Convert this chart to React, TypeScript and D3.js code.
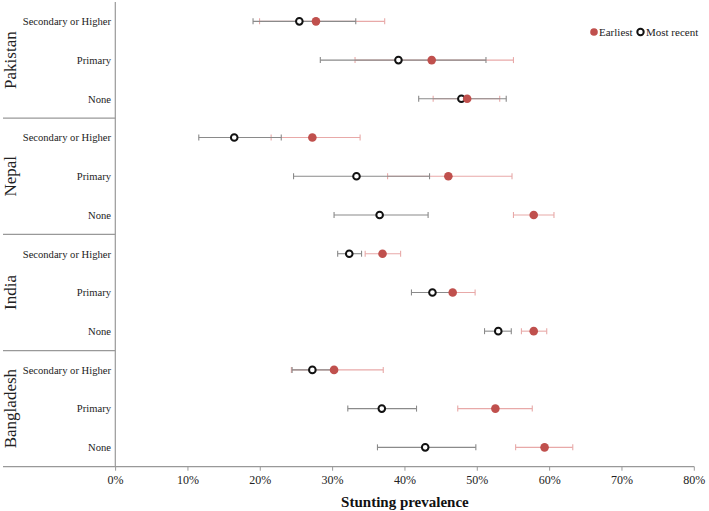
import React from "react";
import * as d3 from "d3";

const countries = ["Pakistan", "Nepal", "India", "Bangladesh"];
const levels = ["Secondary or Higher", "Primary", "None"];
const xTicks = [0, 10, 20, 30, 40, 50, 60, 70, 80];

// per country, per level (Secondary, Primary, None)
const earliestValue = [
  [27.7, 43.7, 48.6],
  [27.2, 46.0, 57.8],
  [36.9, 46.6, 57.8],
  [30.2, 52.5, 59.3],
];
const earliestLow = [
  [19.9, 33.1, 43.9],
  [21.5, 37.6, 55.0],
  [34.5, 43.5, 56.1],
  [24.3, 47.3, 55.3],
];
const earliestHigh = [
  [37.2, 55.0, 53.1],
  [33.8, 54.8, 60.6],
  [39.4, 49.7, 59.6],
  [37.0, 57.6, 63.2],
];
const recentValue = [
  [25.4, 39.1, 47.8],
  [16.4, 33.3, 36.5],
  [32.3, 43.8, 52.9],
  [27.2, 36.8, 42.8],
];
const recentLow = [
  [19.0, 28.3, 41.9],
  [11.5, 24.6, 30.2],
  [30.7, 40.9, 51.0],
  [24.4, 32.1, 36.2],
];
const recentHigh = [
  [33.2, 51.2, 54.0],
  [22.9, 43.4, 43.2],
  [34.0, 46.7, 54.7],
  [30.0, 41.6, 49.8],
];

const W = 709;
const H = 511;
const RED = "#c0504d";
const PINK = "#e8a9a8";
const GREY = "#8a8a8a";
const AXIS = "#999999";
const FONT = "Liberation Serif, Tinos, Times New Roman, DejaVu Serif, serif";

export default function App() {
  const x = d3.scaleLinear().domain([0, 80]).range([115.6, 694.3]);
  const rowKeys: string[] = [];
  countries.forEach((c) => levels.forEach((l) => rowKeys.push(c + "|" + l)));
  const y = d3.scaleBand<string>().domain(rowKeys).range([2, 466.7]).padding(0);
  const bw = y.bandwidth();
  const yc = (ci: number, li: number) => (y(countries[ci] + "|" + levels[li]) as number) + bw / 2;
  const axisY = 466.7;
  const left = 115.3;
  const cap = 3;

  const bar = (lo: number, hi: number, cy: number, color: string, key: string) => (
    <g key={key} stroke={color} strokeWidth={1.1}>
      <line x1={x(lo)} x2={x(hi)} y1={cy} y2={cy} />
      <line x1={x(lo)} x2={x(lo)} y1={cy - cap} y2={cy + cap} />
      <line x1={x(hi)} x2={x(hi)} y1={cy - cap} y2={cy + cap} />
    </g>
  );

  return (
    <svg
      width={W}
      height={H}
      style={{ position: "absolute", left: 0, top: 0, background: "#fff", fontFamily: FONT }}
    >
      {/* axes */}
      <line x1={left} x2={left} y1={2} y2={axisY} stroke={AXIS} strokeWidth={1.2} />
      <line x1={3} x2={x(80)} y1={axisY} y2={axisY} stroke={AXIS} strokeWidth={1.2} />
      {countries.slice(1).map((c) => {
        const yy = y(c + "|" + levels[0]) as number;
        return <line key={c} x1={3} x2={left} y1={yy} y2={yy} stroke={AXIS} strokeWidth={1.2} />;
      })}
      {xTicks.map((t) => (
        <g key={t}>
          <line x1={x(t)} x2={x(t)} y1={axisY} y2={axisY + 4} stroke={AXIS} strokeWidth={1} />
          <text x={x(t)} y={axisY + 17} textAnchor="middle" fontSize={12} fill="#222">
            {t + "%"}
          </text>
        </g>
      ))}
      <text x={(x(0) + x(80)) / 2} y={506.5} textAnchor="middle" fontSize={15} fontWeight="bold" fill="#111">
        Stunting prevalence
      </text>

      {/* row labels */}
      {countries.map((c, ci) =>
        levels.map((l, li) => (
          <text key={c + l} x={111} y={yc(ci, li) + 3.8} textAnchor="end" fontSize={10.6} fill="#222">
            {l}
          </text>
        ))
      )}
      {countries.map((c, ci) => {
        const cy = yc(ci, 1);
        return (
          <text
            key={c}
            transform={`translate(${16},${cy}) rotate(-90)`}
            textAnchor="middle"
            fontSize={17}
            fill="#222"
          >
            {c}
          </text>
        );
      })}

      {/* error bars */}
      {countries.map((c, ci) =>
        levels.map((l, li) => bar(earliestLow[ci][li], earliestHigh[ci][li], yc(ci, li), PINK, "e" + c + l))
      )}
      {countries.map((c, ci) =>
        levels.map((l, li) => bar(recentLow[ci][li], recentHigh[ci][li], yc(ci, li), GREY, "r" + c + l))
      )}

      {/* points */}
      {countries.map((c, ci) =>
        levels.map((l, li) => (
          <circle
            key={"rc" + c + l}
            cx={x(recentValue[ci][li])}
            cy={yc(ci, li)}
            r={3.3}
            fill="#fff"
            stroke="#111"
            strokeWidth={2}
          />
        ))
      )}
      {countries.map((c, ci) =>
        levels.map((l, li) => (
          <circle key={"ec" + c + l} cx={x(earliestValue[ci][li])} cy={yc(ci, li)} r={4.3} fill={RED} />
        ))
      )}

      {/* legend */}
      <circle cx={594} cy={32} r={3.8} fill={RED} />
      <text x={599} y={35.8} fontSize={11} fill="#222">Earliest</text>
      <circle cx={640.5} cy={32} r={3.2} fill="#fff" stroke="#111" strokeWidth={2} />
      <text x={646} y={35.8} fontSize={11} fill="#222">Most recent</text>
    </svg>
  );
}
